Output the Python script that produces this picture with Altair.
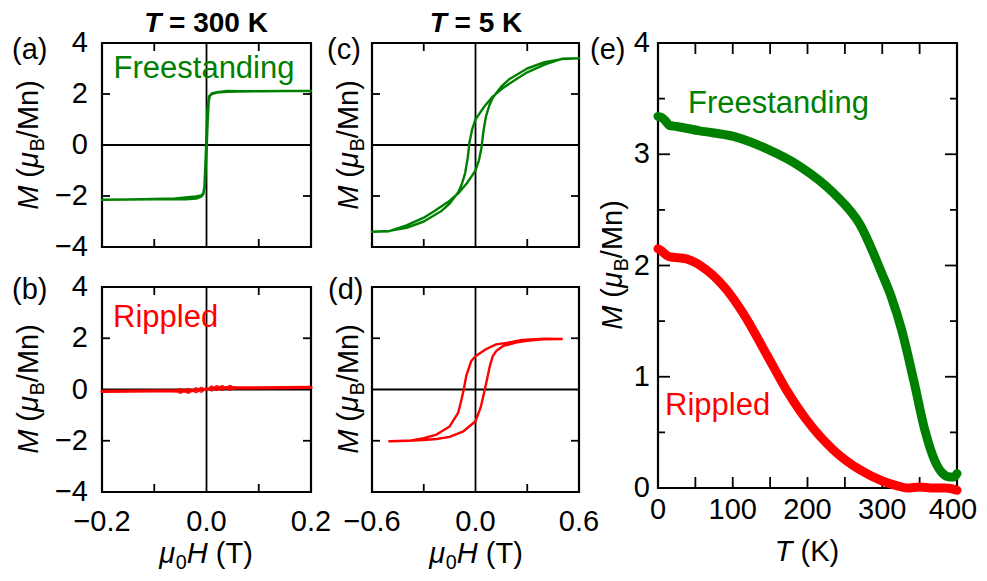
import altair as alt
import pandas as pd

FONT = "Liberation Sans"
GREEN = "#008000"
RED = "#ff0000"

# ---------------- data ----------------
# (a) T = 300 K, freestanding: descending then ascending branch
a_desc_H = [0.2, 0.15, 0.1, 0.06, 0.04, 0.02, 0.01, 0.005, 0.002, 0.0, -0.002, -0.004, -0.006, -0.01, -0.02, -0.04, -0.06, -0.1, -0.15, -0.2]
a_desc_M = [2.12, 2.12, 2.11, 2.10, 2.09, 2.06, 2.0, 1.9, 1.4, 0.3, -0.8, -1.7, -1.9, -1.98, -2.02, -2.06, -2.1, -2.12, -2.14, -2.15]
a_asc_H = [-0.2, -0.15, -0.1, -0.06, -0.04, -0.02, -0.01, -0.006, -0.003, 0.0, 0.002, 0.004, 0.006, 0.01, 0.02, 0.04, 0.06, 0.1, 0.15, 0.2]
a_asc_M = [-2.15, -2.14, -2.13, -2.12, -2.13, -2.1, -2.02, -1.92, -1.5, -0.2, 0.9, 1.7, 1.92, 2.02, 2.07, 2.12, 2.11, 2.11, 2.12, 2.12]

# (b) T = 300 K, rippled
b_desc_H = [0.2, 0.15, 0.1, 0.06, 0.045, 0.03, 0.02, 0.01, 0.0, -0.01, -0.02, -0.035, -0.05, -0.07, -0.1, -0.15, -0.2]
b_desc_M = [0.08, 0.07, 0.06, 0.06, 0.07, 0.06, 0.06, 0.04, 0.01, -0.01, -0.03, -0.06, -0.06, -0.05, -0.05, -0.06, -0.07]
b_asc_H = [-0.2, -0.15, -0.1, -0.07, -0.05, -0.035, -0.02, -0.01, 0.0, 0.01, 0.02, 0.03, 0.045, 0.06, 0.1, 0.15, 0.2]
b_asc_M = [-0.07, -0.06, -0.05, -0.05, -0.05, -0.05, -0.03, -0.01, 0.02, 0.04, 0.05, 0.06, 0.06, 0.06, 0.06, 0.07, 0.08]

# (c) T = 5 K, freestanding
c_desc_H = [0.6, 0.5, 0.4, 0.3, 0.24, 0.16, 0.1, 0.05, 0.02, 0.0, -0.02, -0.035, -0.045, -0.06, -0.08, -0.1, -0.15, -0.2, -0.3, -0.4, -0.5, -0.6]
c_desc_M = [3.4, 3.38, 3.15, 2.85, 2.6, 2.24, 1.9, 1.5, 1.2, 1.0, 0.6, 0.1, -0.5, -1.1, -1.55, -1.85, -2.3, -2.6, -3.0, -3.25, -3.37, -3.4]
c_asc_H = [-0.6, -0.5, -0.4, -0.3, -0.24, -0.16, -0.1, -0.05, -0.02, 0.0, 0.02, 0.035, 0.045, 0.06, 0.08, 0.1, 0.15, 0.2, 0.3, 0.4, 0.5, 0.6]
c_asc_M = [-3.4, -3.38, -3.15, -2.85, -2.6, -2.24, -1.9, -1.5, -1.2, -1.0, -0.6, -0.1, 0.5, 1.1, 1.55, 1.85, 2.3, 2.6, 3.0, 3.25, 3.37, 3.4]

# (d) T = 5 K, rippled
d_desc_H = [0.5, 0.4, 0.27, 0.18, 0.12, 0.06, 0.0, -0.025, -0.054, -0.068, -0.085, -0.1, -0.15, -0.226, -0.3, -0.38, -0.5]
d_desc_M = [1.97, 1.98, 1.93, 1.82, 1.76, 1.57, 1.3, 1.11, 0.52, 0.0, -0.5, -0.9, -1.44, -1.76, -1.9, -2.0, -2.02]
d_asc_H = [-0.5, -0.4, -0.3, -0.226, -0.15, -0.07, 0.0, 0.03, 0.054, 0.07, 0.083, 0.1, 0.12, 0.16, 0.24, 0.3, 0.39, 0.5]
d_asc_M = [-2.02, -2.0, -1.97, -1.93, -1.85, -1.63, -1.24, -0.7, 0.0, 0.5, 0.91, 1.3, 1.5, 1.7, 1.84, 1.9, 1.96, 1.97]

# (e) M(T)
e_free_T = [0, 5, 10, 15, 25, 56, 101, 145, 190, 235, 270, 300, 312, 326, 342, 357, 370, 381, 390, 396, 400]
e_free_M = [3.34, 3.33, 3.30, 3.26, 3.25, 3.21, 3.16, 3.05, 2.89, 2.65, 2.37, 1.92, 1.72, 1.42, 0.97, 0.52, 0.25, 0.13, 0.10, 0.10, 0.13]
e_rip_T = [0, 5, 10, 15, 38, 65, 92, 114, 147, 172, 199, 235, 271, 301, 320, 333, 350, 368, 385, 400]
e_rip_M = [2.15, 2.13, 2.10, 2.08, 2.06, 1.96, 1.78, 1.57, 1.18, 0.88, 0.61, 0.34, 0.16, 0.06, 0.02, 0.0, 0.01, 0.0, 0.0, -0.02]

# tick values / labels
ab_y_vals = [4, 2, 0, -2, -4]
ab_y_labels = ["4", "2", "0", "−2", "−4"]
b_x_vals = [-0.2, 0.0, 0.2]
b_x_labels = ["−0.2", "0.0", "0.2"]
d_x_vals = [-0.6, 0.0, 0.6]
d_x_labels = ["−0.6", "0.0", "0.6"]
e_x_vals = [0, 100, 200, 300, 400]
e_x_labels = ["0", "100", "200", "300", "400"]
e_y_vals = [0, 1, 2, 3, 4]
e_y_labels = ["0", "1", "2", "3", "4"]

# ---------------- geometry (chart pixels) ----------------
G = {
    "a": dict(xdom=[-0.2, 0.2], ydom=[-4, 4], x0=94, x1=303, y0=35, y1=239),
    "b": dict(xdom=[-0.2, 0.2], ydom=[-4, 4], x0=94, x1=303, y0=279, y1=484),
    "c": dict(xdom=[-0.6, 0.6], ydom=[-4, 4], x0=364, x1=571, y0=35, y1=239),
    "d": dict(xdom=[-0.6, 0.6], ydom=[-4, 4], x0=364, x1=571, y0=279, y1=484),
    "e": dict(xdom=[0, 400], ydom=[0, 4], x0=650, x1=949, y0=35, y1=480),
}

TICK_FS = 29
TITLE_FS = 29
ANN_FS = 31

WID = {" ": 278, "(": 333, ")": 333, "/": 278, "=": 584, "−": 584, ".": 278,
       "B": 667, "H": 722, "K": 667, "M": 833, "T": 611, "n": 556, "μ": 576}
WID_BOLD = {"K": 722}


def tw(s, size, bold=False):
    tot = 0
    for ch in s:
        w = WID_BOLD.get(ch, WID.get(ch, 556)) if bold else WID.get(ch, 556)
        tot += w
    return tot / 1000.0 * size


def rich(segs, x, y, size, angle=0, color="black", anchor="center"):
    """segs: list of (text, style) with style in n, i, sub, b, bi."""
    sub_size = size * 0.68
    widths = []
    for t, st in segs:
        fs = sub_size if st == "sub" else size
        widths.append(tw(t, fs, bold=st in ("b", "bi")))
    total = sum(widths)
    start = -total / 2 if anchor == "center" else 0
    layers = []
    cum = start
    for (t, st), w in zip(segs, widths):
        fs = sub_size if st == "sub" else size
        bold = st in ("b", "bi")
        shown = t.strip()
        lead = tw(t[: len(t) - len(t.lstrip())], fs, bold)
        kw = dict(align="left", baseline="alphabetic", font=FONT, fontSize=fs, color=color)
        if st in ("i", "bi"):
            kw["fontStyle"] = "italic"
        if bold:
            kw["fontWeight"] = "bold"
        if st == "sub":
            kw["dy"] = size * 0.22
        if angle:
            kw["angle"] = angle
            px, py = x, y - (cum + lead)
        else:
            px, py = x + cum + lead, y
        layers.append(
            alt.Chart(pd.DataFrame({"t": [shown]})).mark_text(**kw).encode(
                x=alt.value(px), y=alt.value(py), text="t:N"
            )
        )
        cum += w
    return layers


def scales(g):
    xs = alt.Scale(domain=g["xdom"], range=[g["x0"], g["x1"]], nice=False, zero=False)
    ys = alt.Scale(domain=g["ydom"], range=[g["y1"], g["y0"]], nice=False, zero=False)
    return xs, ys


def loop_df(dH, dM, aH, aM):
    H = dH + aH
    M = dM + aM
    return pd.DataFrame({"x": H, "y": M, "i": list(range(len(H)))})


def frame(g, xs, ys, zero=True):
    layers = []
    box = pd.DataFrame({"x": [g["xdom"][0]], "x2": [g["xdom"][1]], "y": [g["ydom"][0]], "y2": [g["ydom"][1]]})
    if zero:
        vz = pd.DataFrame({"x": [0.0], "y": [g["ydom"][0]], "y2": [g["ydom"][1]]})
        hz = pd.DataFrame({"y": [0.0], "x": [g["xdom"][0]], "x2": [g["xdom"][1]]})
        layers.append(alt.Chart(vz).mark_rule(color="black", strokeWidth=1.8).encode(
            x=alt.X("x:Q", scale=xs, axis=None), y=alt.Y("y:Q", scale=ys, axis=None), y2="y2:Q"))
        layers.append(alt.Chart(hz).mark_rule(color="black", strokeWidth=1.8).encode(
            y=alt.Y("y:Q", scale=ys, axis=None), x=alt.X("x:Q", scale=xs, axis=None), x2="x2:Q"))
    layers.append(alt.Chart(box).mark_rect(fillOpacity=0, stroke="black", strokeWidth=2.2).encode(
        x=alt.X("x:Q", scale=xs, axis=None), x2="x2:Q",
        y=alt.Y("y:Q", scale=ys, axis=None), y2="y2:Q"))
    return layers


def yticks(vals, g, ys, length):
    df = pd.DataFrame({"v": vals})
    return [
        alt.Chart(df).mark_rule(color="black", strokeWidth=1.8).encode(
            y=alt.Y("v:Q", scale=ys, axis=None), x=alt.value(g["x0"]), x2=alt.value(g["x0"] + length)),
        alt.Chart(df).mark_rule(color="black", strokeWidth=1.8).encode(
            y=alt.Y("v:Q", scale=ys, axis=None), x=alt.value(g["x1"] - length), x2=alt.value(g["x1"])),
    ]


def xticks(vals, g, xs, length):
    df = pd.DataFrame({"v": vals})
    return [
        alt.Chart(df).mark_rule(color="black", strokeWidth=1.8).encode(
            x=alt.X("v:Q", scale=xs, axis=None), y=alt.value(g["y1"] - length), y2=alt.value(g["y1"])),
        alt.Chart(df).mark_rule(color="black", strokeWidth=1.8).encode(
            x=alt.X("v:Q", scale=xs, axis=None), y=alt.value(g["y0"]), y2=alt.value(g["y0"] + length)),
    ]


def ylabels(vals, labs, xpos, ys, size=TICK_FS):
    df = pd.DataFrame({"v": vals, "lab": labs})
    return alt.Chart(df).mark_text(align="right", baseline="middle", font=FONT, fontSize=size, color="black").encode(
        y=alt.Y("v:Q", scale=ys, axis=None), x=alt.value(xpos), text="lab:N")


def xlabels(vals, labs, ypos, xs, size=TICK_FS, dx=0):
    df = pd.DataFrame({"v": vals, "lab": labs})
    return alt.Chart(df).mark_text(align="center", baseline="middle", font=FONT, fontSize=size, color="black",
                                   dx=dx).encode(
        x=alt.X("v:Q", scale=xs, axis=None), y=alt.value(ypos), text="lab:N")


def curve(df, xs, ys, color, sw, interp="linear"):
    return alt.Chart(df).mark_line(color=color, strokeWidth=sw, strokeJoin="round", strokeCap="round",
                                   interpolate=interp).encode(
        x=alt.X("x:Q", scale=xs, axis=None), y=alt.Y("y:Q", scale=ys, axis=None), order="i:Q")


panels = []

# (a)
g = G["a"]; xs, ys = scales(g)
la = frame(g, xs, ys) + yticks([-2, 2], g, ys, 8) + xticks([-0.1, 0.1], g, xs, 8)
la.append(curve(loop_df(a_desc_H, a_desc_M, a_asc_H, a_asc_M), xs, ys, GREEN, 2.6))
la.append(ylabels(ab_y_vals, ab_y_labels, 80, ys))
panels.append(alt.layer(*la))

# (b)
g = G["b"]; xs, ys = scales(g)
lb = frame(g, xs, ys) + yticks([-2, 2], g, ys, 8) + xticks([-0.1, 0.1], g, xs, 8)
bdf = loop_df(b_desc_H, b_desc_M, b_asc_H, b_asc_M)
lb.append(curve(bdf, xs, ys, RED, 3.2))
bpts = bdf[(bdf["x"].abs() <= 0.05) & (bdf["x"].abs() >= 0.01)]
lb.append(alt.Chart(bpts).mark_point(shape="circle", filled=False, color=RED, size=22, strokeWidth=1.2).encode(
    x=alt.X("x:Q", scale=xs, axis=None), y=alt.Y("y:Q", scale=ys, axis=None)))
lb.append(ylabels(ab_y_vals, ab_y_labels, 80, ys))
lb.append(xlabels(b_x_vals, b_x_labels, 514, xs))
panels.append(alt.layer(*lb))

# (c)
g = G["c"]; xs, ys = scales(g)
lc = frame(g, xs, ys) + yticks([-2, 2], g, ys, 8) + xticks([-0.3, 0.3], g, xs, 8)
lc.append(curve(loop_df(c_desc_H, c_desc_M, c_asc_H, c_asc_M), xs, ys, GREEN, 2.4))
panels.append(alt.layer(*lc))

# (d)
g = G["d"]; xs, ys = scales(g)
ld = frame(g, xs, ys) + yticks([-2, 2], g, ys, 8) + xticks([-0.3, 0.3], g, xs, 8)
ld.append(curve(loop_df(d_desc_H, d_desc_M, d_asc_H, d_asc_M), xs, ys, RED, 2.4))
ld.append(xlabels(d_x_vals, d_x_labels, 514, xs))
panels.append(alt.layer(*ld))

# (e)
g = G["e"]; xs, ys = scales(g)
le = frame(g, xs, ys, zero=False)
le += yticks([1, 2, 3], g, ys, 12) + yticks([0.5, 1.5, 2.5, 3.5], g, ys, 7)
le += xticks([50, 100, 150, 200, 250, 300, 350], g, xs, 11)
fdf = pd.DataFrame({"x": e_free_T, "y": e_free_M, "i": list(range(len(e_free_T)))})
rdf = pd.DataFrame({"x": e_rip_T, "y": e_rip_M, "i": list(range(len(e_rip_T)))})
le.append(curve(fdf, xs, ys, GREEN, 9, "monotone"))
le.append(curve(rdf, xs, ys, RED, 9, "monotone"))
le.append(ylabels(e_y_vals, e_y_labels, 642, ys))
le.append(xlabels(e_x_vals[:-1], e_x_labels[:-1], 502, xs))
le.append(xlabels(e_x_vals[-1:], e_x_labels[-1:], 502, xs, dx=-4))
panels.append(alt.layer(*le))

# ---------------- text annotations ----------------
texts = []
M_TITLE = [("M", "i"), (" (", "n"), ("μ", "i"), ("B", "sub"), ("/Mn)", "n")]
H_TITLE = [("μ", "i"), ("0", "sub"), ("H", "i"), (" (T)", "n")]
T_TITLE = [("T", "i"), (" (K)", "n")]
texts += rich(M_TITLE, 30, 137, TITLE_FS, angle=270)
texts += rich(M_TITLE, 30, 381, TITLE_FS, angle=270)
texts += rich(M_TITLE, 350, 137, TITLE_FS, angle=270)
texts += rich(M_TITLE, 350, 381, TITLE_FS, angle=270)
texts += rich(M_TITLE, 614, 257, TITLE_FS, angle=270)
texts += rich(H_TITLE, 198, 555, TITLE_FS)
texts += rich(H_TITLE, 468, 555, TITLE_FS)
texts += rich(T_TITLE, 799, 553, TITLE_FS)
texts += rich([("T", "bi"), (" = 300 K", "b")], 198, 24, 28)
texts += rich([("T", "bi"), (" = 5 K", "b")], 468, 24, 28)

panel_tags = ["(a)", "(b)", "(c)", "(d)", "(e)"]
tag_pos = [(4, 51), (4, 291), (319, 51), (320, 291), (582, 51)]
for lab, (px, py) in zip(panel_tags, tag_pos):
    texts.append(alt.Chart(pd.DataFrame({"t": [lab]})).mark_text(
        align="left", baseline="alphabetic", font=FONT, fontSize=29, color="black").encode(
        x=alt.value(px), y=alt.value(py), text="t:N"))

ann = [("Freestanding", GREEN, 196, 70, "center"), ("Rippled", RED, 105, 319, "left"),
       ("Freestanding", GREEN, 680, 105, "left"), ("Rippled", RED, 657, 407, "left")]
for t, col, px, py, al in ann:
    texts.append(alt.Chart(pd.DataFrame({"t": [t]})).mark_text(
        align=al, baseline="alphabetic", font=FONT, fontSize=ANN_FS, color=col).encode(
        x=alt.value(px), y=alt.value(py), text="t:N"))

chart = alt.layer(*panels, *texts).resolve_scale(x="independent", y="independent").properties(
    width=971, height=565, autosize="none", padding=0, background="white"
).configure_view(stroke="transparent")

chart.save("out.html", embed_options={"renderer": "svg", "actions": False})
